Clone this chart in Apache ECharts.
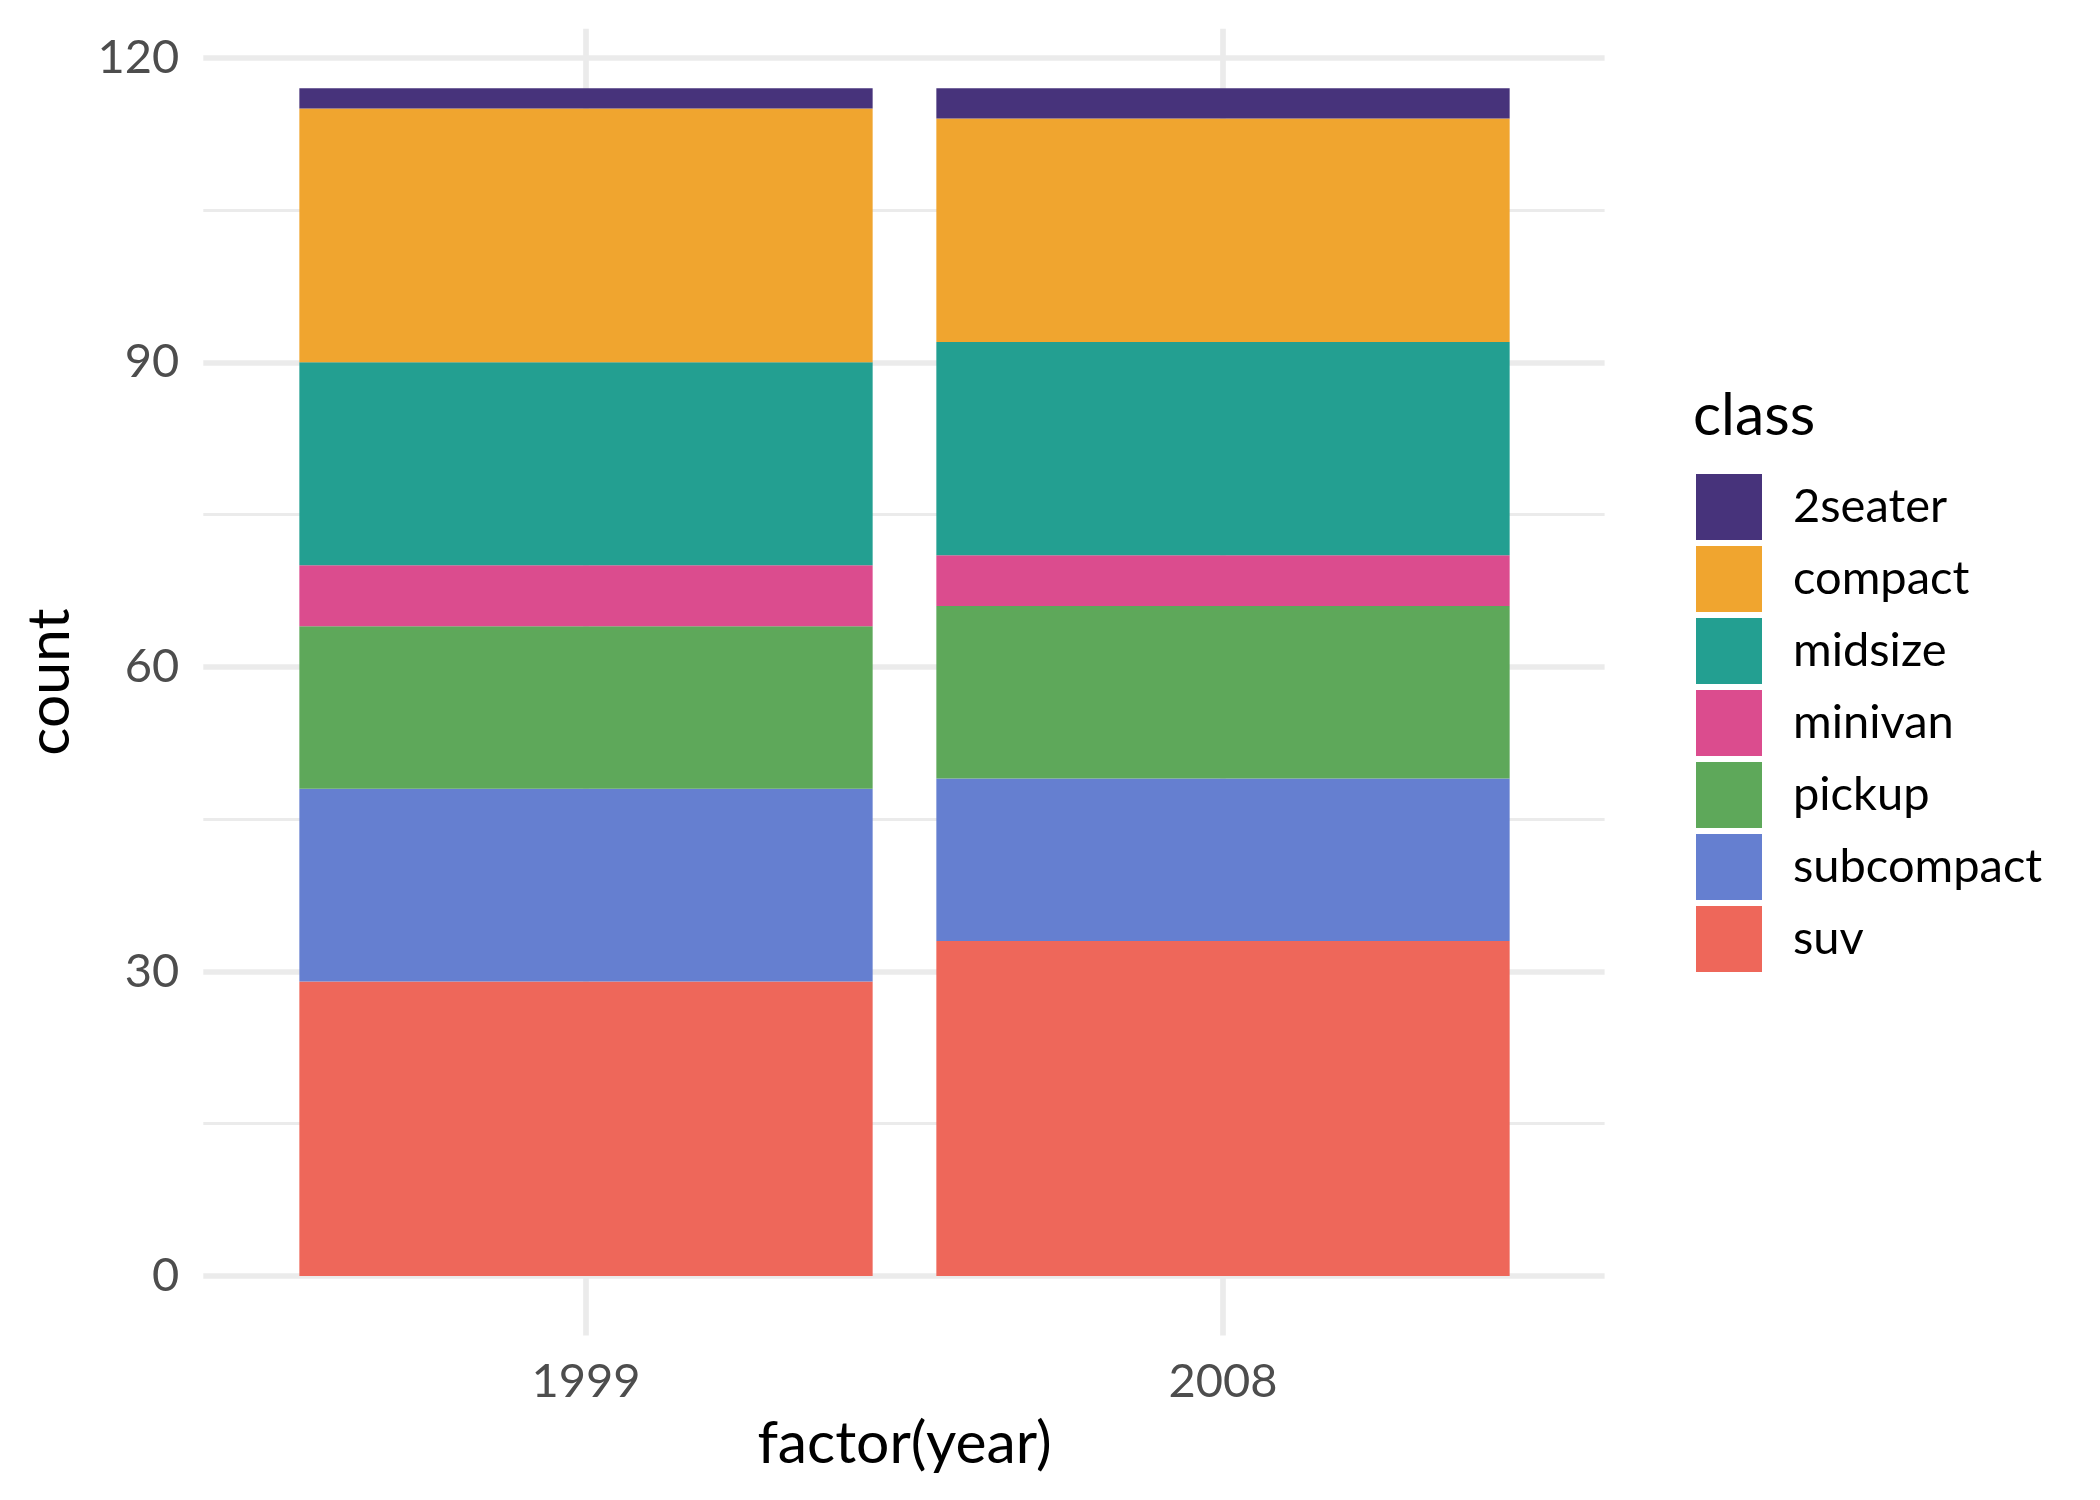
<!DOCTYPE html>
<html>
<head>
<meta charset="utf-8">
<script src="https://cdn.jsdelivr.net/npm/echarts@6/dist/echarts.min.js"></script>
<style>
  html, body { margin: 0; padding: 0; background: #ffffff; }
  #chart { width: 2100px; height: 1500px; }
</style>
</head>
<body>
<div id="chart"></div>
<script>
// ---- data (mpg: counts of cars by class and year) ----
const years = ['1999', '2008'];
const classes = ['2seater', 'compact', 'midsize', 'minivan', 'pickup', 'subcompact', 'suv'];
const count2seater    = [2, 3];
const countCompact    = [25, 22];
const countMidsize    = [20, 21];
const countMinivan    = [6, 5];
const countPickup     = [16, 17];
const countSubcompact = [19, 16];
const countSuv        = [29, 33];
const yTickValues = [0, 30, 60, 90, 120];

const classColors = {
  '2seater': '#47337B',
  'compact': '#F0A52F',
  'midsize': '#239F91',
  'minivan': '#DB4C8E',
  'pickup': '#5EA85A',
  'subcompact': '#657FD0',
  'suv': '#EE675A'
};
const classValues = {
  '2seater': count2seater,
  'compact': countCompact,
  'midsize': countMidsize,
  'minivan': countMinivan,
  'pickup': countPickup,
  'subcompact': countSubcompact,
  'suv': countSuv
};

const FONT = 'Lato';
const GRID_COLOR = '#EBEBEB';
const SMALL = 47, BIG = 58.8;

// panel geometry
const panelLeft = 203.3, panelRight = 1604.6;
const yZero = 1276, y120 = 57.7;
const perUnit = (yZero - y120) / 120;
const panelTop = y120 - 2.85 * perUnit;
const panelBottom = yZero + 5.85 * perUnit;
const c1 = 586, c2 = 1223; // category centres
const catW = c2 - c1;

// stacking order: bottom (suv) to top (2seater)
const stackOrder = classes.slice().reverse();

const series = stackOrder.map(name => ({
  name: name,
  type: 'bar',
  xAxisIndex: 2,
  yAxisIndex: 2,
  stack: 'total',
  barWidth: '90%',
  itemStyle: { color: classColors[name] },
  emphasis: { disabled: true },
  data: classValues[name]
}));

const option = {
  animation: false,
  backgroundColor: '#ffffff',
  textStyle: { fontFamily: FONT },
  title: {
    text: 'class',
    left: 1693,
    top: 387,
    padding: 0,
    textStyle: { fontFamily: FONT, fontSize: BIG, fontWeight: 'normal', color: '#000000' }
  },
  legend: {
    orient: 'vertical',
    left: 1696,
    top: 474,
    padding: 0,
    itemWidth: 66,
    itemHeight: 66,
    itemGap: 6,
    icon: 'rect',
    selectedMode: false,
    data: classes,
    textStyle: { fontFamily: FONT, fontSize: SMALL, color: '#000000', padding: [12, 0, 0, 26] }
  },
  grid: [
    { // horizontal gridlines + y tick labels
      left: panelLeft, width: panelRight - panelLeft,
      top: y120, height: yZero - y120
    },
    { // vertical gridlines + x labels + axis titles (full panel height)
      left: c1, width: catW,
      top: panelTop, height: panelBottom - panelTop
    },
    { // bars
      left: c1 - catW / 2, width: catW * 2,
      top: y120, height: yZero - y120
    }
  ],
  xAxis: [
    { gridIndex: 0, type: 'value', min: 0, max: 1, show: false },
    {
      gridIndex: 1, type: 'category', boundaryGap: false, data: years,
      axisLine: { show: false }, axisTick: { show: false },
      axisLabel: { fontFamily: FONT, fontSize: SMALL, color: '#4D4D4D', margin: 23 },
      splitLine: { show: true, lineStyle: { color: GRID_COLOR, width: 5.7 } },
      name: 'factor(year)', nameLocation: 'middle', nameGap: 79,
      nameTextStyle: { fontFamily: FONT, fontSize: BIG, color: '#000000' }
    },
    { gridIndex: 2, type: 'category', data: years, show: false }
  ],
  yAxis: [
    {
      gridIndex: 0, type: 'value', min: 0, max: 120, interval: 30,
      axisLine: { show: false }, axisTick: { show: false },
      axisLabel: {
        fontFamily: FONT, fontSize: SMALL, color: '#4D4D4D', margin: 24,
        formatter: v => (yTickValues.indexOf(v) >= 0 ? String(v) : '')
      },
      splitLine: { show: true, lineStyle: { color: GRID_COLOR, width: 5.7 } },
      minorTick: { show: false, splitNumber: 2 },
      minorSplitLine: { show: true, lineStyle: { color: GRID_COLOR, width: 2.8 } }
    },
    {
      gridIndex: 1, type: 'value', min: 0, max: 1,
      axisLine: { show: false }, axisTick: { show: false },
      axisLabel: { show: false }, splitLine: { show: false },
      name: 'count', nameLocation: 'middle', nameGap: 506, nameRotate: 90,
      nameTextStyle: { fontFamily: FONT, fontSize: BIG, color: '#000000' }
    },
    { gridIndex: 2, type: 'value', min: 0, max: 120, show: false }
  ],
  series: series
};

const chart = echarts.init(document.getElementById('chart'), null, { renderer: 'canvas' });
chart.setOption(option);
</script>
</body>
</html>
